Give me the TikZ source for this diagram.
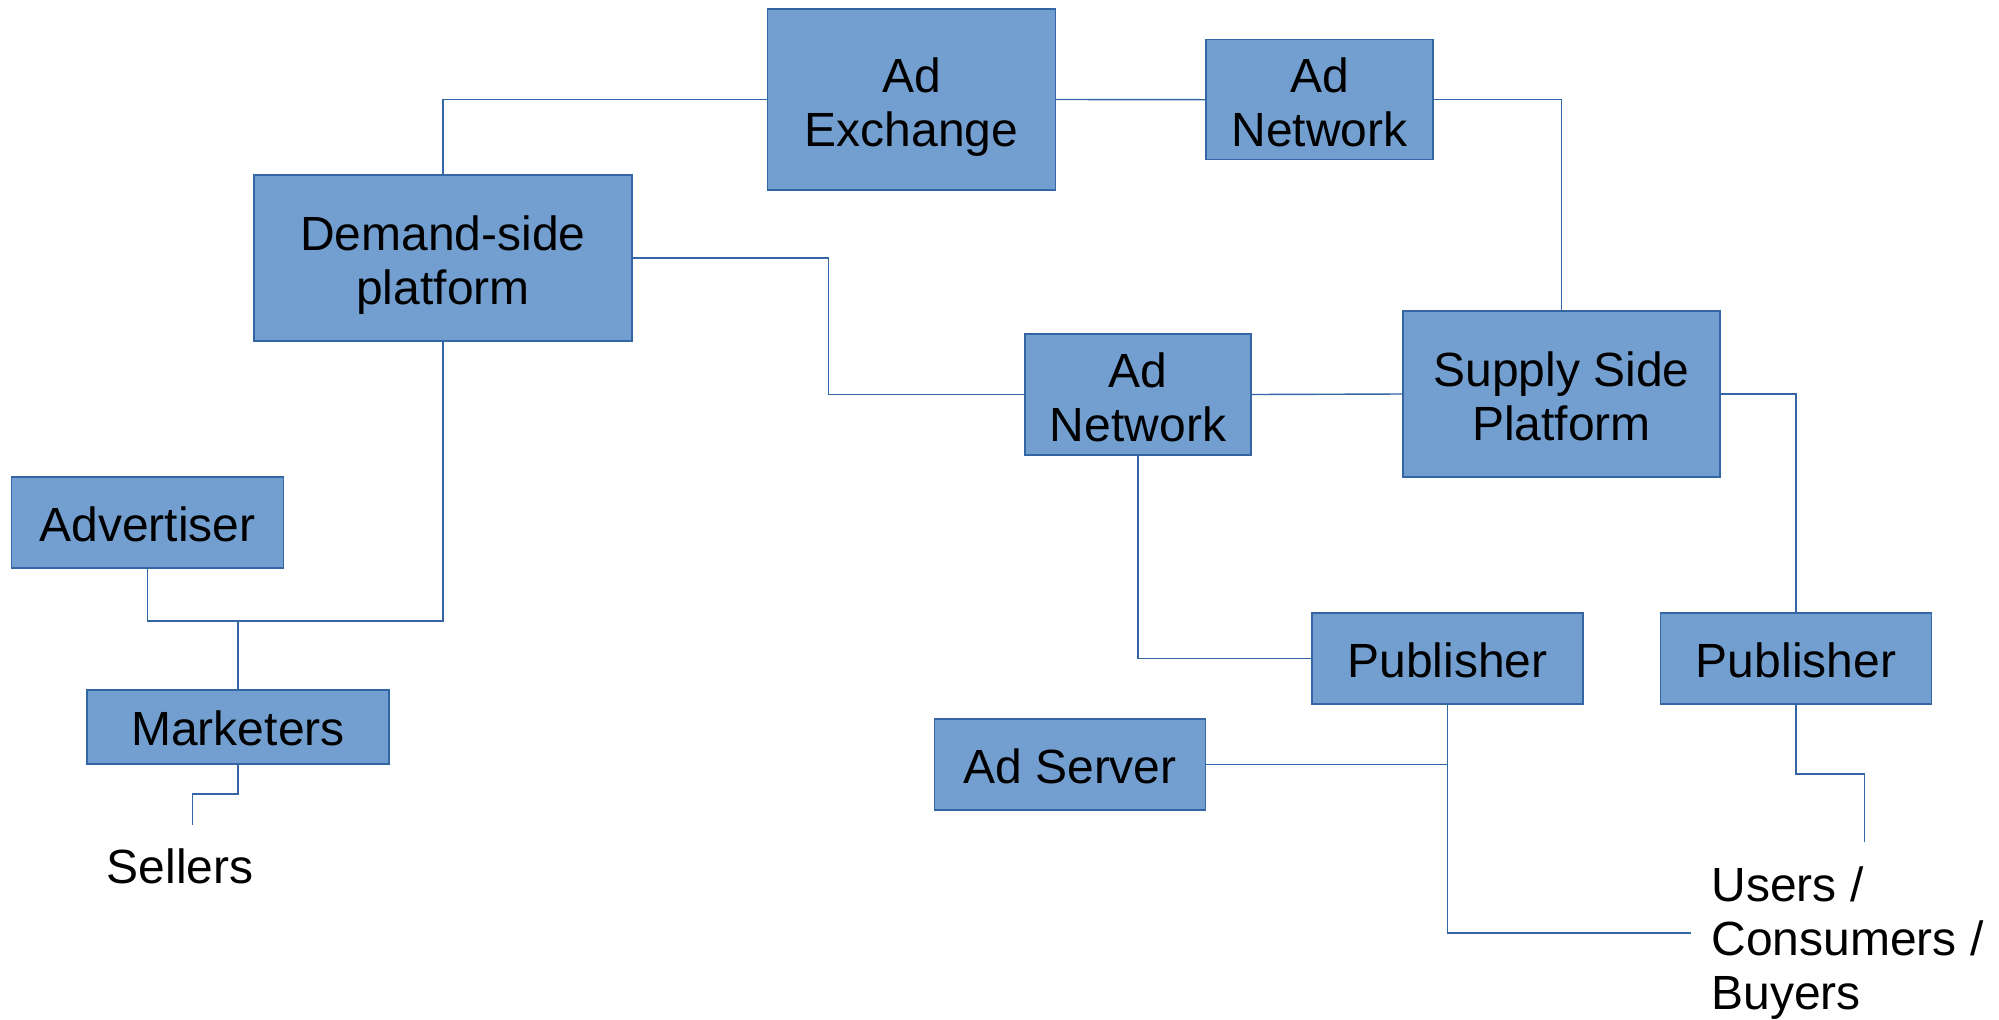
\documentclass[tikz,border=0pt]{standalone}
\usepackage{fontspec}
\setmainfont{Liberation Sans}
\usetikzlibrary{calc}
\definecolor{boxfill}{HTML}{729FCF}
\definecolor{boxline}{HTML}{3465A4}
\newcommand\topstrut{\rule{0pt}{19.8pt}}
\begin{document}
\begin{tikzpicture}[x=0.5pt,y=-0.5pt,
  box/.style={draw=boxline,fill=boxfill,line width=0.7pt,inner sep=0pt,align=center,
    text depth=0pt,font=\fontsize{24}{27}\selectfont},
  box1/.style={box,text height=18.5pt},
  lbl/.style={inner sep=0pt,font=\fontsize{24}{27}\selectfont},
  conn/.style={draw=boxline,line width=0.7pt}]
\useasboundingbox (0,0) rectangle (1999,1019);
\node[box,minimum width=144pt,minimum height=90.5pt] (adex) at (911.5,99.5) {\topstrut Ad\\Exchange};
\node[box,minimum width=113.5pt,minimum height=60pt] (an1) at (1319.5,99.7) {\topstrut Ad\\Network};
\node[box,minimum width=189pt,minimum height=83pt] (dsp) at (443,258) {\topstrut Demand-side\\platform};
\node[box,minimum width=113pt,minimum height=60.5pt] (an2) at (1138,394.5) {\topstrut Ad\\Network};
\node[box,minimum width=158.5pt,minimum height=83pt] (ssp) at (1561.5,394) {\topstrut Supply Side\\Platform};
\node[box1,minimum width=136pt,minimum height=45.5pt] (adv) at (147.5,522.5) {Advertiser};
\node[box1,minimum width=151pt,minimum height=37pt] (mkt) at (238,727) {Marketers};
\node[box1,minimum width=135.5pt,minimum height=45.5pt] (pub1) at (1447.5,658.5) {Publisher};
\node[box1,minimum width=135.75pt,minimum height=45.5pt] (pub2) at (1796,658.5) {Publisher};
\node[box1,minimum width=135.75pt,minimum height=45.5pt] (adsrv) at (1070,764.5) {Ad Server};
\node[lbl] (sellers) at (180,866) {Sellers};
\node[lbl,align=left,anchor=north west] (users) at (1711,866) {Users /\\Consumers /\\Buyers};
\coordinate (j1) at (828.5,0);
\coordinate (j2) at (238,621);
\coordinate (sl) at (192.5,825);
\coordinate (u1) at (1690.5,933);
\coordinate (u2) at (1864.4,842);
\draw[conn] (adex.west) -| (dsp.north);
\draw[conn] (adex.east) -- (an1.west);
\draw[conn] (an1.east) -| (ssp.north);
\draw[conn] (dsp.east) -| (j1 |- an2.west) -- (an2.west);
\draw[conn] (an2.east) -- (ssp.west);
\draw[conn] (ssp.east) -| (pub2.north);
\draw[conn] (an2.south) |- (pub1.west);
\draw[conn] (dsp.south) |- (j2) -| (adv.south);
\draw[conn] (j2) -- (mkt.north);
\draw[conn] (mkt.south) |- ($(sl)+(0,-31)$) -- (sl);
\draw[conn] (pub1.south) |- (u1);
\draw[conn] (adsrv.east) -- (adsrv.east -| pub1.south);
\draw[conn] (pub2.south) |- ($(u2)+(0,-68)$) -- (u2);
\end{tikzpicture}
\end{document}
